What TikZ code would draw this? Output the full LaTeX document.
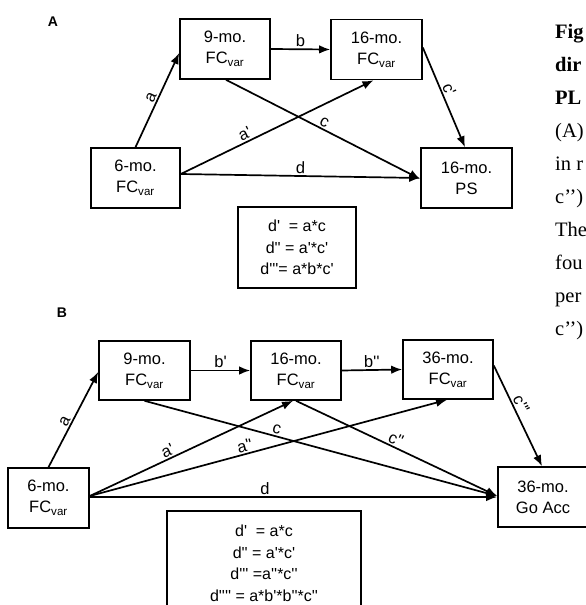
\documentclass[tikz,border=0pt]{standalone}
\usepackage{fontspec}
\setmainfont{Liberation Sans}
\newfontfamily\arial{Liberation Sans}
\newfontfamily\capserif{Liberation Serif}
\usetikzlibrary{arrows.meta,calc}
\tikzset{
  box/.style={draw, line width=1.6pt, minimum width=90pt, minimum height=60pt,
    inner sep=0pt, align=center, font=\arial\fontsize{16.5}{21}\selectfont},
  eqbox/.style={draw, line width=1.2pt, inner sep=0pt, align=center,
    font=\arial\fontsize{16}{21.5}\selectfont},
  conn/.style={line width=1.7pt, -{Latex[length=11pt,width=8.5pt]}},
  lab/.style={font=\arial\fontsize{16.5}{20}\selectfont, inner sep=1.5pt, sloped},
  panel/.style={font=\arial\bfseries\fontsize{14}{16}\selectfont},
  captext/.style={anchor=base west, inner sep=0pt, font=\capserif\fontsize{20.5}{24}\selectfont},
  capbold/.style={captext, font=\capserif\bfseries\fontsize{20.5}{24}\selectfont},
}
\newcommand{\fcv}{FC\textsubscript{var}}
\begin{document}
\begin{tikzpicture}[x=1pt,y=-1pt]
\clip (0,0) rectangle (586,605);
\useasboundingbox (0,0) rectangle (586,605);
% ---------- Panel A ----------
\node[panel] (lA) at (53,22) {A};
\node[box] (n9A) at (225,49) {9-mo.\\\fcv};
\node[box, minimum width=91pt] (n16A) at (376.5,49.5) {16-mo.\\\fcv};
\node[box, minimum width=89pt] (n6A) at (135.5,178) {6-mo.\\\fcv};
\node[box, minimum width=91pt] (psA) at (466.5,178) {16-mo.\\PS};
\node[eqbox, minimum width=118pt, minimum height=81pt] (eqA) at (297,247.5)
  {d'\ \ = a*c\\d'' = a'*c'\\d'''= a*b*c'};
\draw[conn] (n6A.north) -- node[lab, above] {a} ([yshift=-4pt]n9A.west);
\draw[conn] (n9A.east) -- node[lab, above] {b} (n16A.west);
\draw[conn] ([xshift=1pt]n9A.south) -- node[lab, above, pos=0.49] {c} ([yshift=-1pt]psA.west);
\draw[conn] ([yshift=4pt]n6A.east) -- node[lab, above, pos=0.35] {a'} ([xshift=-3pt]n16A.south);
\draw[conn] ([yshift=4pt]n6A.east) -- node[lab, above, pos=0.5] {d} (psA.west);
\draw[conn] ([yshift=2pt]n16A.east) -- node[lab, above, pos=0.45] {c'} ([xshift=-1.5pt]psA.north);
% ---------- Panel B ----------
\node[panel] (lB) at (62,313) {B};
\node[box, minimum width=91pt, minimum height=59pt] (n9B) at (144.5,370.5) {9-mo.\\\fcv};
\node[box, minimum height=59pt] (n16B) at (296,370.5) {16-mo.\\\fcv};
\node[box, minimum height=59pt] (n36B) at (448,369.5) {36-mo.\\\fcv};
\node[box, minimum width=81pt] (n6B) at (48.5,498) {6-mo.\\\fcv};
\node[box] (goB) at (543,497) {36-mo.\\Go Acc};
\node[eqbox, minimum width=194pt, minimum height=105pt] (eqB) at (264,563.5)
  {d'\ \ = a*c\\d'' = a'*c'\\d''' =a''*c''\\d'''' = a*b'*b''*c''};
\draw[conn] (n6B.north) -- node[lab, above, pos=0.45] {a} ([yshift=-1.5pt]n9B.west);
\draw[conn] (n9B.east) -- node[lab, above] {b'} (n16B.west);
\draw[conn] (n16B.east) -- node[lab, above] {b''} (n36B.west);
\draw[conn] (n9B.south) -- node[lab, above, pos=0.37] {c} ([yshift=1pt]goB.west);
\draw[conn] ([yshift=2pt]n6B.east) -- node[lab, above, pos=0.4] {a'} ([xshift=-3pt]n16B.south);
\draw[conn] ([yshift=2pt]n6B.east) -- node[lab, above, pos=0.44] {a''} ([xshift=-1pt]n36B.south);
\draw[conn] (n16B.south) -- node[lab, above, pos=0.48] {c''} ([yshift=1pt]goB.west);
\draw[conn] ([yshift=1pt]n6B.east) -- node[lab, above, pos=0.43] {d} (goB.west);
\draw[conn] ([yshift=4pt]n36B.east) -- node[lab, above, pos=0.42] {c'''} ([xshift=-1pt]goB.north);
% ---------- caption fragment ----------
\node[capbold] (t1) at (555,38) {Fig};
\node[capbold] (t2) at (555,71) {dir};
\node[capbold] (t3) at (555,104) {PL};
\node[captext] (t4) at (555,137) {(A)};
\node[captext] (t5) at (555,170) {in r};
\node[captext] (t6) at (555,203) {c’’)};
\node[captext] (t7) at (555,236) {The};
\node[captext] (t8) at (555,269) {fou};
\node[captext] (t9) at (555,302) {per};
\node[captext] (t10) at (555,335) {c’’)};
\end{tikzpicture}
\end{document}
